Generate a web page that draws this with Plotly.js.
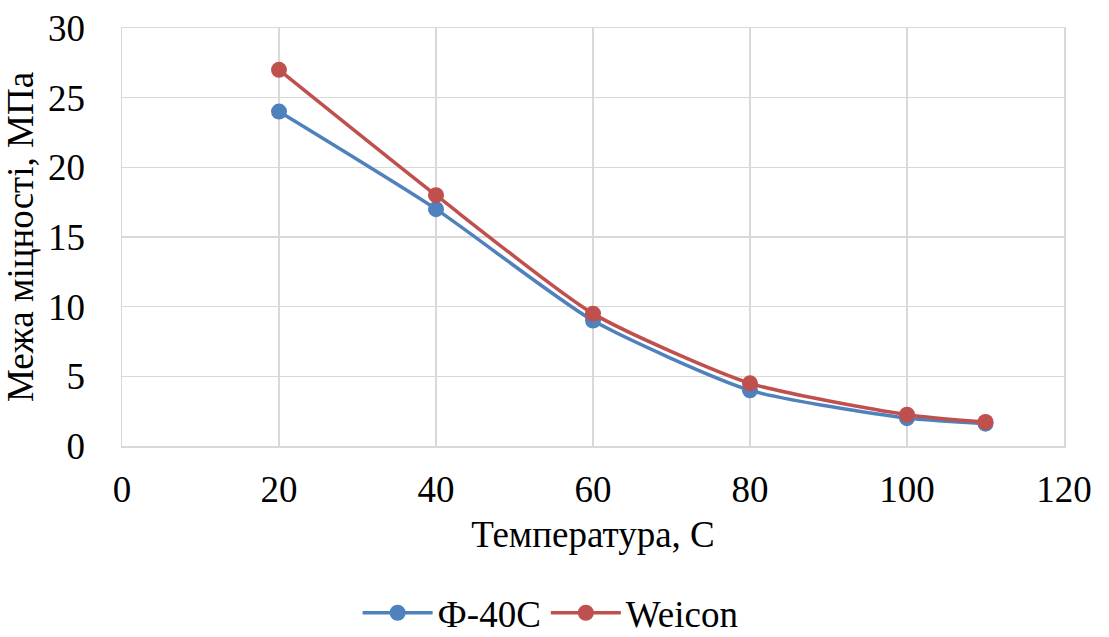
<!DOCTYPE html>
<html><head><meta charset="utf-8">
<script src="https://cdn.plot.ly/plotly-3.0.1.min.js"></script>
<style>html,body{margin:0;padding:0;background:#fff}</style>
</head><body><div id="chart" style="width:1109px;height:637px"></div>
<script>
const temps = [20, 40, 60, 80, 100, 110];
const f40c = [24, 17, 9, 4, 2, 1.6];
const weicon = [27, 18, 9.5, 4.5, 2.25, 1.72];
const seriesNames = ['Ф-40С', 'Weicon'];
const xTitle = 'Температура, С';
const yTitle = 'Межа міцності, МПа';

const FAM = 'Liberation Serif';
const f = (s) => ({family: FAM, size: s, color: '#000'});
const traces = [
  {x: temps, y: f40c, name: seriesNames[0], mode: 'lines+markers', line: {color: '#4F81BD', width: 3.5, shape: 'spline', smoothing: 0.6}, marker: {color: '#4F81BD', size: 16}},
  {x: temps, y: weicon, name: seriesNames[1], mode: 'lines+markers', line: {color: '#C0504D', width: 3.5, shape: 'spline', smoothing: 0.6}, marker: {color: '#C0504D', size: 16}}
];
const layout = {
  width: 1109, height: 637,
  margin: {l: 122, r: 45, t: 28, b: 191, autoexpand: false},
  paper_bgcolor: '#fff', plot_bgcolor: '#fff',
  font: f(37),
  showlegend: true,
  legend: {orientation: 'h', x: 0.455, xanchor: 'center', y: -0.40, yanchor: 'middle', font: f(37), itemwidth: 70, tracegroupgap: 0},
  xaxis: {range: [0, 120], dtick: 20, showgrid: true, gridcolor: '#D9D9D9', gridwidth: 1.5, zeroline: false, automargin: false,
    showline: true, linecolor: '#D9D9D9', linewidth: 1.5, mirror: true, ticks: '', tickfont: f(37), ticklabelstandoff: 10,
    title: {text: xTitle, font: f(37), standoff: 12}},
  yaxis: {range: [0, 30], dtick: 5, showgrid: true, gridcolor: '#D9D9D9', gridwidth: 1.5, zeroline: false, automargin: false,
    showline: true, linecolor: '#D9D9D9', linewidth: 1.5, mirror: true, ticks: '', tickfont: f(37), ticklabelstandoff: 28,
    title: {text: yTitle, font: f(37), standoff: 10}}
};
Plotly.newPlot('chart', traces, layout, {displayModeBar: false, staticPlot: true});
</script></body></html>
